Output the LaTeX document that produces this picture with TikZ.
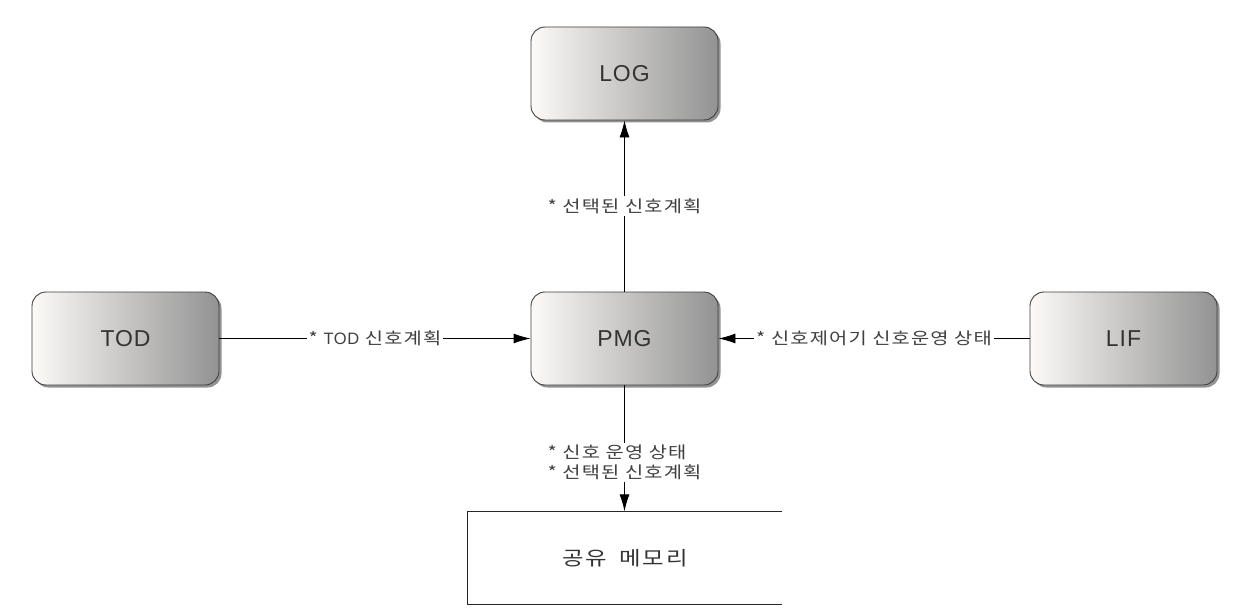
\documentclass[tikz,border=0pt]{standalone}
\usepackage{fontspec}
\setmainfont{Liberation Sans}
\newfontfamily\kr[LetterSpace=7,FakeStretch=1.2]{Noto Sans CJK KR}
\newfontfamily\krwide[LetterSpace=8,FakeStretch=1.2]{Noto Sans CJK KR}
\newfontfamily\lat[LetterSpace=4]{Liberation Sans}
\usetikzlibrary{arrows.meta,shadows,positioning}
\tikzset{
  procbox/.style={draw=black!75, line width=0.9pt, rounded corners=14pt,
    minimum width=187pt, minimum height=93pt, inner sep=0pt,
    left color=white!96!brown, right color=gray!85,
    shading angle=90,
    drop shadow={shadow xshift=2.5pt, shadow yshift=-2.5pt, fill=black!60, opacity=0.7},
    font=\lat\fontsize{23}{26}\selectfont, text=black!80},
  flow/.style={line width=0.9pt, -{Latex[length=17pt,width=10pt]}},
  flowlabel/.style={fill=white, inner sep=2pt, font=\kr\fontsize{16.5}{20}\selectfont, text=black!75},
  storebox/.style={minimum width=314pt, minimum height=93pt, inner sep=0pt,
    font=\krwide\fontsize{19.5}{24}\selectfont, text=black!80}
}
\begin{document}
\begin{tikzpicture}[x=1pt,y=-1pt]
\useasboundingbox[fill=white] (0,0) rectangle (1233,615);
\node[procbox] (LOG) at (624.5,73.5) {LOG};
\node[procbox] (PMG) at (624.5,338.5) {PMG};
\node[procbox] (TOD) at (125.5,338.5) {TOD};
\node[procbox] (LIF) at (1123.5,338.5) {LIF};
\node[storebox] (MEM) at (625,558) {공유\hspace{6pt} 메모리};
\draw[line width=1.1pt, black!85] (MEM.north east) -- (MEM.north west) -- (MEM.south west) -- (MEM.south east);
\draw[flow] (PMG.north) -- node[flowlabel] {* 선택된 신호계획} (LOG.south);
\draw[flow] (TOD.east) -- node[flowlabel] {* {\lat TOD} 신호계획} (PMG.west);
\draw[flow] (LIF.west) -- node[flowlabel] {* 신호제어기 신호운영 상태} (PMG.east);
\draw[flow] (PMG.south) -- node[flowlabel, pos=0.61, align=left, font=\kr\fontsize{16.5}{20}\selectfont] {* 신호 운영 상태\\* 선택된 신호계획} (PMG.south |- MEM.north);
\end{tikzpicture}
\end{document}
